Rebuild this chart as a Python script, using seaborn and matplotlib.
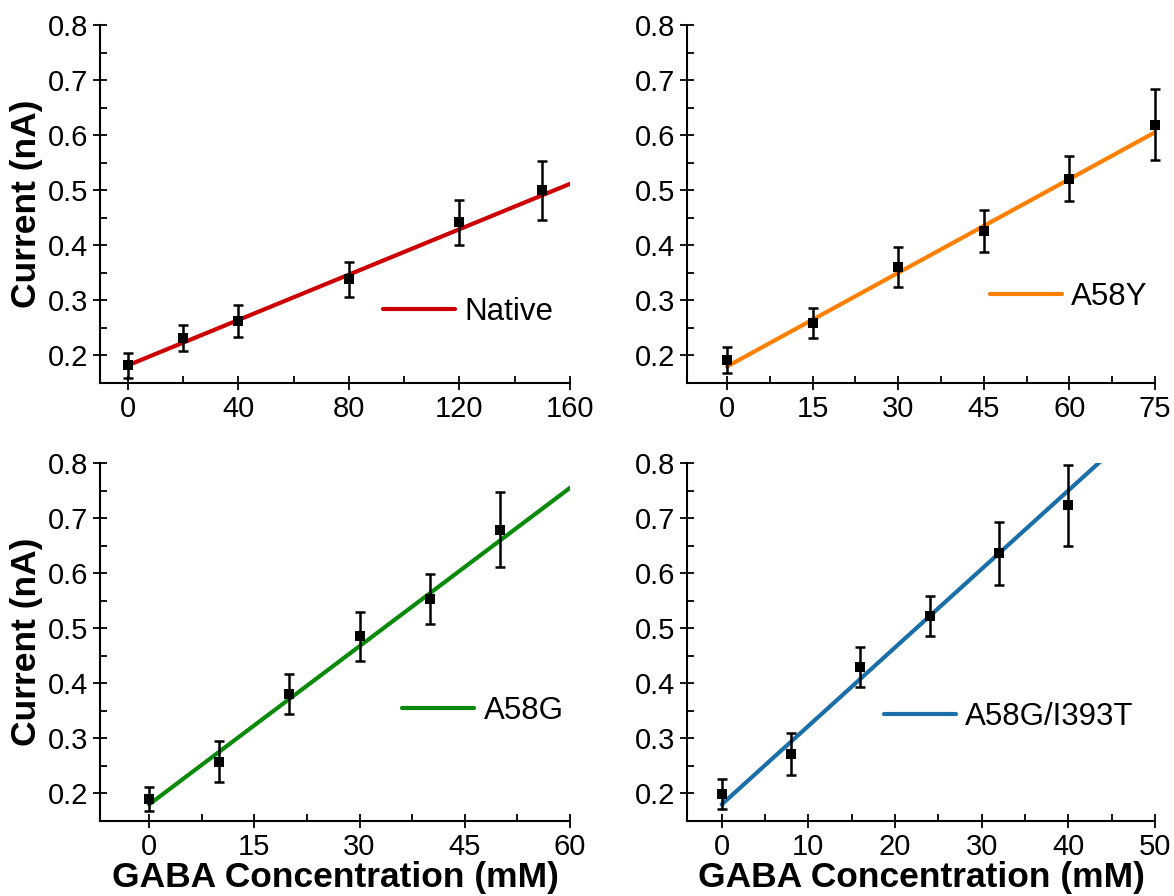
import numpy as np
import pandas as pd
import matplotlib
matplotlib.use("Agg")
import matplotlib.pyplot as plt
from matplotlib.ticker import MultipleLocator
import seaborn as sns

# ---------------- data ----------------
names = ["Native", "A58Y", "A58G", "A58G/I393T"]

native_x = [0, 20, 40, 80, 120, 150]
native_y = [0.182, 0.232, 0.262, 0.338, 0.442, 0.500]
native_err = [0.022, 0.024, 0.029, 0.032, 0.041, 0.054]

a58y_x = [0, 15, 30, 45, 60, 75]
a58y_y = [0.192, 0.259, 0.361, 0.426, 0.521, 0.619]
a58y_err = [0.024, 0.027, 0.036, 0.038, 0.041, 0.064]

a58g_x = [0, 10, 20, 30, 40, 50]
a58g_y = [0.190, 0.258, 0.381, 0.485, 0.553, 0.679]
a58g_err = [0.021, 0.038, 0.036, 0.044, 0.046, 0.068]

dbl_x = [0, 8, 16, 24, 32, 40]
dbl_y = [0.199, 0.271, 0.429, 0.522, 0.636, 0.723]
dbl_err = [0.028, 0.038, 0.036, 0.037, 0.057, 0.074]

# linear fit parameters (intercept, slope)
fit_intercepts = [0.182, 0.180, 0.180, 0.180]
fit_slopes = [0.00206, 0.00567, 0.00958, 0.01425]

x_max = [160, 75, 60, 50]
x_min = [-10, -7, -7, -4]
x_major = [40, 15, 15, 10]
x_minor = [20, 7.5, 7.5, 5]

colors = ["#cc0000", "#ff8000", "#0a8a0a", "#1a6fa8"]

# ---------------- style ----------------
sns.set_style("ticks")
plt.rcParams["font.family"] = ["Liberation Sans", "DejaVu Sans"]
plt.rcParams.update({
    "text.color": "black",
    "axes.labelcolor": "black",
    "axes.edgecolor": "black",
    "xtick.color": "black",
    "ytick.color": "black",
})

fig = plt.figure(figsize=(11.74, 8.96), dpi=100)
positions = [
    [0.0852, 0.5725, 0.4003, 0.3996],
    [0.5852, 0.5725, 0.3986, 0.3996],
    [0.0852, 0.0837, 0.4003, 0.3996],
    [0.5852, 0.0837, 0.3986, 0.3996],
]
legend_anchor = [(0.602, 0.198), (0.647, 0.240), (0.643, 0.307), (0.421, 0.290)]

series = [
    (native_x, native_y, native_err),
    (a58y_x, a58y_y, a58y_err),
    (a58g_x, a58g_y, a58g_err),
    (dbl_x, dbl_y, dbl_err),
]

for i, (xs, ys, es) in enumerate(series):
    ax = fig.add_axes(positions[i])
    ax.set_xlim(x_min[i], x_max[i])
    ax.set_ylim(0.15, 0.8)

    # fitted line from x=0 to the right edge
    fit_df = pd.DataFrame({"x": [0, x_max[i]]})
    fit_df["y"] = fit_intercepts[i] + fit_slopes[i] * fit_df["x"]
    sns.lineplot(data=fit_df, x="x", y="y", ax=ax, color=colors[i], lw=3.0,
                 label=names[i], zorder=2)

    # error bars + square markers (not clipped at the axes edge)
    eb = ax.errorbar(xs, ys, yerr=es, fmt="none", ecolor="black",
                     elinewidth=1.8, capsize=3.5, capthick=1.8, zorder=3)
    for child in eb.get_children():
        child.set_clip_on(False)
    pts = pd.DataFrame({"x": xs, "y": ys})
    sns.scatterplot(data=pts, x="x", y="y", ax=ax, marker="s", s=55,
                    color="black", edgecolor="black", linewidth=0, zorder=4,
                    legend=False, clip_on=False)

    # axes styling
    sns.despine(ax=ax)
    for sp in ["left", "bottom"]:
        ax.spines[sp].set_linewidth(1.5)
        ax.spines[sp].set_color("black")
    ax.xaxis.set_major_locator(MultipleLocator(x_major[i]))
    ax.xaxis.set_minor_locator(MultipleLocator(x_minor[i]))
    ax.yaxis.set_major_locator(MultipleLocator(0.1))
    ax.yaxis.set_minor_locator(MultipleLocator(0.05))
    ax.tick_params(which="major", direction="inout", length=9.5, width=1.3,
                   labelsize=21, pad=4, colors="black")
    ax.tick_params(which="minor", direction="in", length=5, width=1.3,
                   colors="black")
    ax.set_yticks([0.2, 0.3, 0.4, 0.5, 0.6, 0.7, 0.8])
    ax.set_yticklabels(["0.2", "0.3", "0.4", "0.5", "0.6", "0.7", "0.8"])

    if i % 2 == 0:
        ax.set_ylabel("Current (nA)", fontsize=25.5, fontweight="bold",
                      labelpad=3, color="black")
    else:
        ax.set_ylabel("")
    if i >= 2:
        ax.set_xlabel("GABA Concentration (mM)", fontsize=25.5,
                      fontweight="bold", labelpad=0, color="black")
    else:
        ax.set_xlabel("")

    leg = ax.legend(loc="center left", bbox_to_anchor=legend_anchor[i],
                    frameon=False, fontsize=22.5, handlelength=2.3,
                    handletextpad=0.3, borderpad=0, borderaxespad=0)
    for t in leg.get_texts():
        t.set_color("black")

fig.savefig("out.png", dpi=100)
